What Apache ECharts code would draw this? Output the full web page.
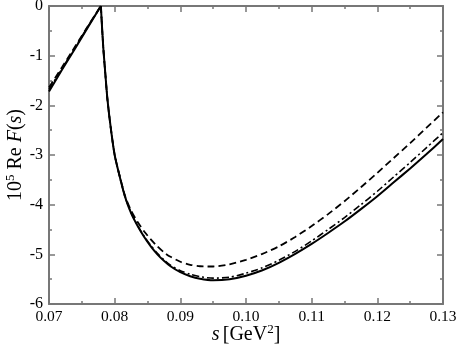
<!DOCTYPE html>
<html><head><meta charset="utf-8">
<script src="https://cdn.jsdelivr.net/npm/echarts@6/dist/echarts.min.js"></script>
<style>html,body{margin:0;padding:0;background:#fff}#c{width:457px;height:350px}</style>
</head><body><div id="c"></div>
<script>
// s values [GeV^2]; index 4 is the threshold cusp s = 4 m_pi^2
const sValues = [0.0700, 0.0720, 0.0740, 0.0760, 0.0779, 0.0781, 0.0783, 0.0786, 0.0789, 0.0794,
  0.0800, 0.0808, 0.0816, 0.0825, 0.0835, 0.0845, 0.0855, 0.0865, 0.0875, 0.0885,
  0.0900, 0.0915, 0.0930, 0.0950, 0.0975, 0.1000, 0.1025, 0.1050, 0.1075, 0.1100,
  0.1125, 0.1150, 0.1175, 0.1200, 0.1225, 0.1250, 0.1275, 0.1300];
const cuspIndex = 4;
// 10^5 Re F(s)
const solidRe = [-1.72, -1.28, -0.85, -0.41, 0.00, -0.48, -0.90, -1.40, -1.88, -2.45,
  -3.00, -3.45, -3.85, -4.17, -4.43, -4.65, -4.84, -5.00, -5.13, -5.24,
  -5.36, -5.44, -5.49, -5.52, -5.50, -5.43, -5.32, -5.17, -4.99, -4.79,
  -4.57, -4.34, -4.09, -3.83, -3.55, -3.27, -2.98, -2.68];
const dashedRe = [-1.64, -1.23, -0.81, -0.39, 0.00, -0.48, -0.90, -1.40, -1.88, -2.45,
  -3.00, -3.44, -3.83, -4.12, -4.35, -4.54, -4.70, -4.84, -4.96, -5.05,
  -5.15, -5.21, -5.24, -5.245, -5.20, -5.11, -4.99, -4.84, -4.65, -4.43,
  -4.19, -3.93, -3.65, -3.36, -3.06, -2.76, -2.45, -2.14];
const dashDotRe = [-1.68, -1.26, -0.83, -0.40, 0.00, -0.48, -0.90, -1.40, -1.88, -2.45,
  -3.00, -3.45, -3.85, -4.16, -4.42, -4.64, -4.82, -4.98, -5.11, -5.22,
  -5.33, -5.40, -5.45, -5.48, -5.46, -5.38, -5.27, -5.12, -4.94, -4.73,
  -4.50, -4.26, -4.00, -3.73, -3.44, -3.15, -2.85, -2.55];
const xMin = 0.07, xMax = 0.13, xStep = 0.01;
const yMin = -6, yMax = 0, yStep = 1;

const FONT = "'Liberation Serif', 'Times New Roman', serif";
const axisColor = '#777';
function pairs(ys){ return sValues.map((s,i)=>[s, ys[i]]); }
function leftPart(ys){ return pairs(ys).slice(0, cuspIndex + 1); }
function rightPart(ys){ return pairs(ys).slice(cuspIndex); }

const baseAxis = {
  axisLine: {show: true, onZero: false, lineStyle: {color: axisColor, width: 2}},
  axisTick: {show: true, inside: true, length: 6, lineStyle: {color: axisColor, width: 1.5}},
  minorTick: {show: true, splitNumber: 2, length: 3, lineStyle: {color: axisColor, width: 1.5}},
  splitLine: {show: false}
};
function mk(extra){ return Object.assign({}, JSON.parse(JSON.stringify(baseAxis)), extra); }
const rich = {
  i: {fontFamily: FONT, fontSize: 20, fontStyle: 'italic', color: '#000', lineHeight: 24},
  n: {fontFamily: FONT, fontSize: 20, color: '#000', lineHeight: 24},
  sup: {fontFamily: FONT, fontSize: 13, color: '#000', lineHeight: 13, verticalAlign: 'top'}
};

const styles = [
  {name: 'solid', ys: solidRe, line: {color: '#000', width: 2, type: 'solid'}, z: 3},
  {name: 'dashed', ys: dashedRe, line: {color: '#000', width: 1.8, type: [7, 4]}, z: 2},
  {name: 'dashdot', ys: dashDotRe, line: {color: '#000', width: 1.6, type: [7, 3, 2, 3]}, z: 2}
];
const series = [];
styles.forEach(st => {
  series.push({type: 'line', name: st.name, data: leftPart(st.ys), showSymbol: false, smooth: false,
    lineStyle: st.line, z: st.z});
  series.push({type: 'line', name: st.name, data: rightPart(st.ys), showSymbol: false,
    smooth: 0.25, lineStyle: st.line, z: st.z});
});

const chart = echarts.init(document.getElementById('c'), null, {renderer: 'canvas'});
chart.setOption({
  animation: false,
  backgroundColor: '#fff',
  grid: {left: 49, right: 14, top: 6, bottom: 46, outerBoundsMode: 'none'},
  xAxis: [
    mk({type: 'value', position: 'bottom', min: xMin, max: xMax, interval: xStep,
      axisLabel: {show: true, margin: 5, color: '#000', fontFamily: FONT, fontSize: 15.5,
        formatter: v => v.toFixed(2)},
      name: '{i|s} {n|[GeV}{sup|2}{n|]}', nameLocation: 'middle', nameGap: 19,
      nameMoveOverlap: false, nameTextStyle: {rich: rich}}),
    mk({type: 'value', position: 'top', min: xMin, max: xMax, interval: xStep,
      axisLabel: {show: false}})
  ],
  yAxis: [
    mk({type: 'value', position: 'left', min: yMin, max: yMax, interval: yStep,
      axisLabel: {show: true, margin: 6, color: '#000', fontFamily: FONT, fontSize: 16},
      name: '{n|10}{sup|5}{n| Re }{i|F}{n|(}{i|s}{n|)}', nameLocation: 'middle', nameGap: 21,
      nameMoveOverlap: false, nameTextStyle: {rich: rich}}),
    mk({type: 'value', position: 'right', min: yMin, max: yMax, interval: yStep,
      axisLabel: {show: false}})
  ],
  series: series
});
</script></body></html>
